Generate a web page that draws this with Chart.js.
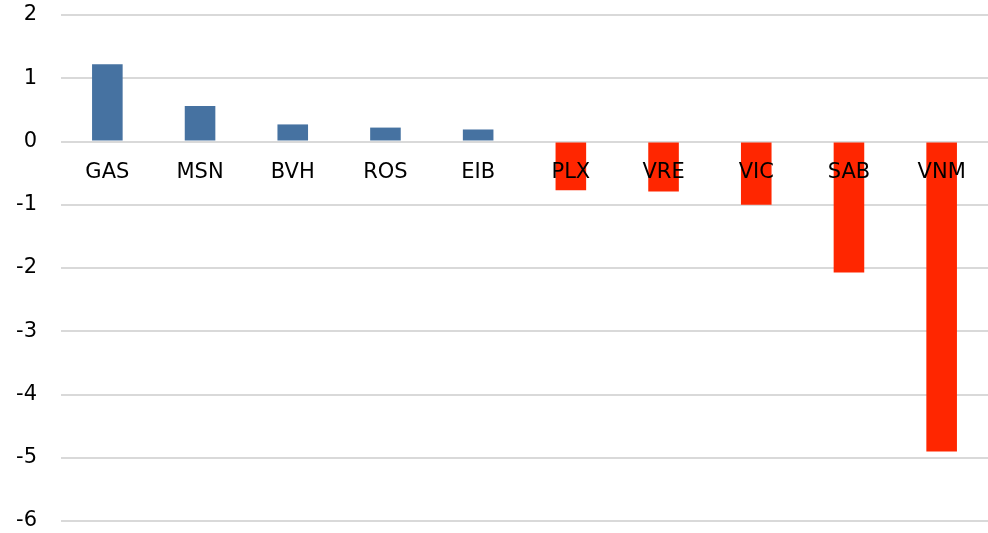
<!DOCTYPE html>
<html>
<head>
<meta charset="utf-8">
<script src="https://cdn.jsdelivr.net/npm/chart.js@4/dist/chart.umd.min.js"></script>
<style>
  html, body { margin: 0; padding: 0; background: #ffffff; }
  #wrap { width: 988px; height: 533px; }
</style>
</head>
<body>
<div id="wrap"><canvas id="c" width="988" height="533"></canvas></div>
<script>
const categories = ["GAS", "MSN", "BVH", "ROS", "EIB", "PLX", "VRE", "VIC", "SAB", "VNM"];
const impactValues = [1.22, 0.56, 0.27, 0.22, 0.19, -0.77, -0.79, -1.0, -2.07, -4.9];
const yTicks = [2, 1, 0, -1, -2, -3, -4, -5, -6];

const POS_COLOR = "#4672A1";
const NEG_COLOR = "#FF2600";
const FONT = "'DejaVu Sans', Verdana, sans-serif";

// Category labels sit just below the zero line, drawn over the bars.
const zeroAxisLabels = {
  id: "zeroAxisLabels",
  afterDatasetsDraw(chart) {
    const { ctx, scales: { x, y } } = chart;
    const y0 = y.getPixelForValue(0);
    ctx.save();
    ctx.fillStyle = "#000000";
    ctx.font = "21px " + FONT;
    ctx.textAlign = "center";
    ctx.textBaseline = "middle";
    categories.forEach((label, i) => {
      ctx.fillText(label, x.getPixelForValue(i), y0 + 31);
    });
    ctx.restore();
  }
};

new Chart(document.getElementById("c"), {
  type: "bar",
  data: {
    labels: categories,
    datasets: [{
      data: impactValues,
      backgroundColor: ctx => (ctx.raw >= 0 ? POS_COLOR : NEG_COLOR),
      borderWidth: 0,
      categoryPercentage: 1.0,
      barPercentage: 0.33
    }]
  },
  options: {
    responsive: false,
    animation: false,
    devicePixelRatio: 1,
    layout: { autoPadding: false, padding: { top: 15, bottom: 12, left: 0, right: 0 } },
    plugins: { legend: { display: false }, tooltip: { enabled: false }, title: { display: false } },
    scales: {
      x: {
        display: false
      },
      y: {
        min: Math.min(...yTicks),
        max: Math.max(...yTicks),
        afterBuildTicks: scale => { scale.ticks = yTicks.map(v => ({ value: v })); },
        afterFit: scale => { scale.width = 61; scale.paddingTop = 0; scale.paddingBottom = 0; },
        grid: { color: "#D9D9D9", lineWidth: 2, drawTicks: false },
        border: { display: false },
        ticks: {
          color: "#000000",
          font: { family: FONT, size: 21 },
          padding: 24,
          callback: v => String(v)
        }
      }
    }
  },
  plugins: [zeroAxisLabels]
});
</script>
</body>
</html>
